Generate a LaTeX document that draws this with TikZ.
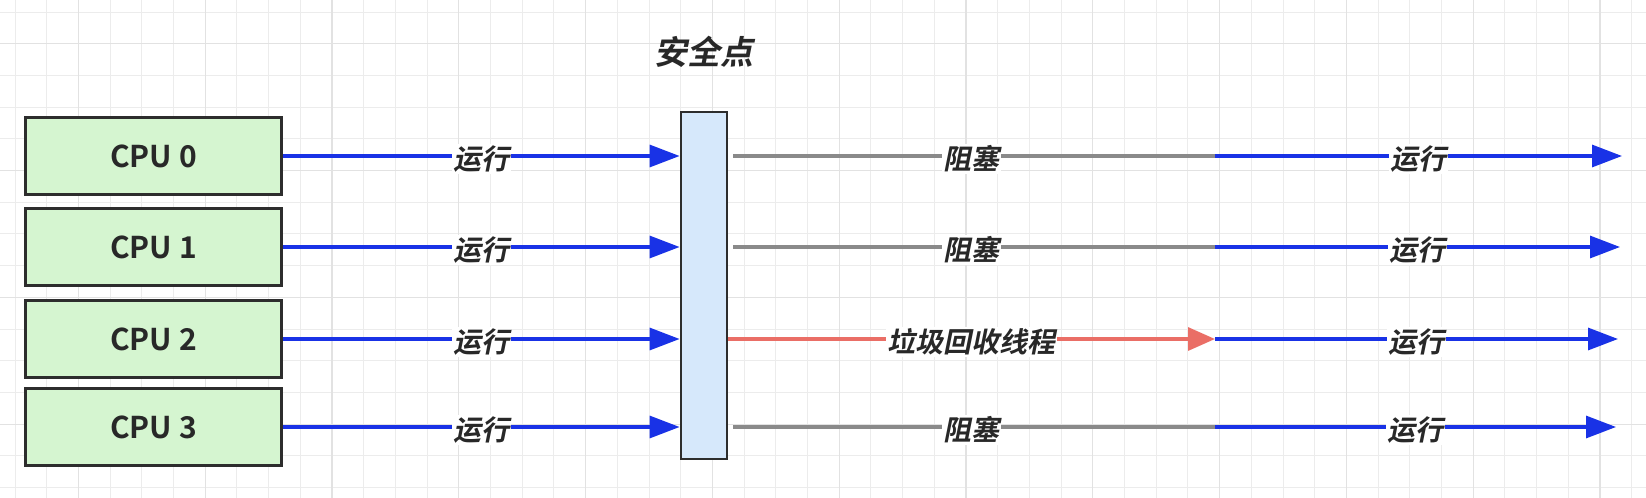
\documentclass[tikz,border=0pt]{standalone}
\usepackage{fontspec}
\usetikzlibrary{arrows.meta}
\newfontfamily\cjkb{Noto Sans CJK SC Bold}
\newfontfamily\cjki{Noto Sans CJK SC Bold}[FakeSlant=0.2]
\definecolor{boxgreen}{RGB}{213,245,208}
\definecolor{barblue}{RGB}{214,232,251}
\definecolor{runblue}{RGB}{25,50,230}
\definecolor{blockgray}{RGB}{138,138,138}
\definecolor{gcred}{RGB}{234,110,102}
\definecolor{edgedark}{RGB}{45,45,45}
\definecolor{gminor}{RGB}{236,236,236}
\definecolor{gmajor}{RGB}{226,226,226}
\definecolor{txt}{RGB}{40,40,40}
\begin{document}
\begin{tikzpicture}[x=0.5pt,y=-0.5pt,
  gridminor/.style={draw=gminor, line width=0.5pt},
  gridmajor/.style={draw=gmajor, line width=0.6pt},
  cpubox/.style={draw=edgedark, line width=1.5pt, fill=boxgreen, minimum width=128pt, minimum height=38.5pt, inner sep=0pt, font=\cjkb\fontsize{15pt}{16pt}\selectfont, text=txt},
  barnode/.style={draw=edgedark, line width=1.4pt, fill=barblue, minimum width=23pt, minimum height=173.5pt, inner sep=0pt},
  lbl/.style={fill=white, inner sep=0.8pt, font=\cjki\fontsize{14pt}{15pt}\selectfont, text=txt, yshift=-1.5pt},
  title/.style={font=\cjki\fontsize{16.5pt}{17pt}\selectfont, text=txt, inner sep=0pt},
  run/.style={draw=runblue, line width=1.6pt, -{Triangle[length=15pt,width=11pt]}},
  block/.style={draw=blockgray, line width=1.8pt},
  gc/.style={draw=gcred, line width=1.6pt, -{Triangle[length=13.5pt,width=11.5pt]}}
]
\useasboundingbox (0,0) rectangle (1646,498);
\fill[white] (0,0) rectangle (1646,498);
\foreach \k in {0,...,51} \draw[gridminor] ({15+31.7*\k},0) -- ({15+31.7*\k},498);
\foreach \k in {0,...,15} \draw[gridminor] (0,{12+31.7*\k}) -- (1646,{12+31.7*\k});
\foreach \k in {2,6,...,50} \draw[gridmajor] ({15+31.7*\k},0) -- ({15+31.7*\k},498);
\foreach \k in {1,5,9,13} \draw[gridmajor] (0,{12+31.7*\k}) -- (1646,{12+31.7*\k});

\node[title] (sp) at (704,52) {安全点};
\node[barnode] (bar) at (704,285.5) {};

\node[cpubox] (c0) at (153.5,156) {CPU 0};
\node[cpubox] (c1) at (153.5,247) {CPU 1};
\node[cpubox] (c2) at (153.5,339) {CPU 2};
\node[cpubox] (c3) at (153.5,427) {CPU 3};

\coordinate (m0) at (1215,156);
\coordinate (m1) at (1215,247);
\coordinate (m2) at (1215,339);
\coordinate (m3) at (1215,427);
\coordinate (t0) at (1622,156);
\coordinate (t1) at (1620,247);
\coordinate (t2) at (1618,339);
\coordinate (t3) at (1616,427);

\draw[run] (c0.east) -- node[lbl]{运行} (c0.east -| bar.west);
\draw[run] (c1.east) -- node[lbl]{运行} (c1.east -| bar.west);
\draw[run] (c2.east) -- node[lbl]{运行} (c2.east -| bar.west);
\draw[run] (c3.east) -- node[lbl]{运行} (c3.east -| bar.west);

\draw[block, shorten <=2.5pt] (bar.east |- m0) -- node[lbl]{阻塞} (m0);
\draw[block, shorten <=2.5pt] (bar.east |- m1) -- node[lbl]{阻塞} (m1);
\draw[gc] (bar.east |- m2) -- node[lbl]{垃圾回收线程} (m2);
\draw[block, shorten <=2.5pt] (bar.east |- m3) -- node[lbl]{阻塞} (m3);

\draw[run] (m0) -- node[lbl]{运行} (t0);
\draw[run] (m1) -- node[lbl]{运行} (t1);
\draw[run] (m2) -- node[lbl]{运行} (t2);
\draw[run] (m3) -- node[lbl]{运行} (t3);
\end{tikzpicture}
\end{document}
